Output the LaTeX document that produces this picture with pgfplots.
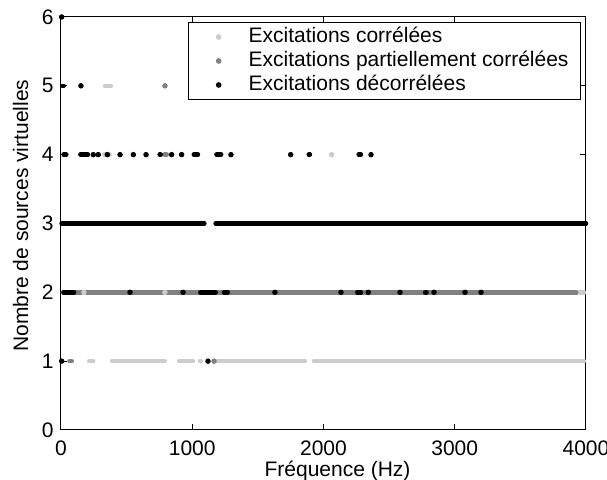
\documentclass[border=0pt]{standalone}
\usepackage{fontspec}
\setmainfont{Liberation Sans}
\usepackage{pgfplots}
\pgfplotsset{compat=1.18}
\definecolor{cA}{gray}{0.8}
\definecolor{cB}{gray}{0.5}
\pgfplotsset{
  dotleg/.style={legend image code/.code={\path[draw=none,fill=none] (0pt,0pt) -- (24pt,0pt); \draw[only marks] plot coordinates {(11pt,0pt)};}},
  seg/.style={forget plot, line width=2.3pt, line cap=round, unbounded coords=jump, mark=none},
}
\begin{document}
\fontsize{10.5}{12.6}\selectfont
\begin{tikzpicture}
\begin{axis}[
  scale only axis, width=262.5pt, height=206.5pt,
  xmin=0, xmax=4000, ymin=0, ymax=6,
  xtick={0,1000,2000,3000,4000}, ytick={0,1,2,3,4,5,6},
  minor tick num=0,
  tick align=inside, xtick pos=both, ytick pos=both,
  major tick length=3pt,
  scaled x ticks=false,
  /pgf/number format/1000 sep={},
  /pgf/number format/assume math mode=true,
  tick label style={font=\fontsize{10.5}{12.6}\selectfont},
  xticklabel style={yshift=-1.5pt},
  label style={font=\fontsize{10.5}{12.6}\selectfont},
  xlabel={Fréquence (Hz)}, ylabel={Nombre de sources virtuelles},
  xlabel style={at={(axis description cs:0.5267,-0.1)}, anchor=center},
  ylabel style={at={(axis description cs:-0.0768,0.519)}, anchor=center},
  clip=false,
  axis line style={line width=0.5pt},
  every tick/.style={line width=0.5pt, black},
  legend cell align=left,
  legend style={at={(axis description cs:0.9905,0.9879)}, anchor=north east,
    draw=black, line width=0.5pt, inner xsep=4pt, inner ysep=1.25pt, row sep=0pt,
    nodes={inner xsep=2pt, inner ysep=1.5pt, text height=7.5pt, text depth=1.5pt,
      font=\fontsize{10.5}{12.6}\selectfont}},
]
\coordinate (sw) at (rel axis cs:0,0);
\coordinate (ne) at (rel axis cs:1,1);
% --- Excitations correlees (light gray)
\addplot[seg, cA] coordinates {
 (215,1)(245,1)(250,nan)
 (390,1)(790,1)(800,nan)
 (900,1)(1005,1)(1010,nan)
 (1058,1)(1066,1)(1070,nan)
 (1190,1)(1858,1)(1860,nan)
 (1928,1)(3985,1)(3990,nan)
 (3945,2)(3985,2)(3990,nan)
 (330,4)(370,4)(375,nan)
 (335,5)(380,5)
};
\addplot[cA, only marks, mark=*, mark size=1.15pt, dotleg] coordinates {
 (175,2)(792,2)(2062,4)
};
\addlegendentry{Excitations corrélées}
% --- Excitations partiellement correlees (mid gray)
\addplot[seg, cB] coordinates {
 (15,2)(155,2)(160,nan)
 (195,2)(780,2)(785,nan)
 (805,2)(3925,2)(3930,nan)
 (65,1)(82,1)(85,nan)
 (790,4)(805,4)
};
\addplot[cB, only marks, mark=*, mark size=1.15pt, dotleg] coordinates {
 (1166,1)(792,5)
};
\addlegendentry{Excitations partiellement corrélées}
% --- Excitations decorrelees (black)
\addplot[seg, black] coordinates {
 (5,3)(1092,3)(1100,nan)
 (1178,3)(4000,3)(4001,nan)
 (20,2)(100,2)(105,nan)
 (1062,2)(1178,2)(1180,nan)
 (1242,2)(1270,2)(1275,nan)
 (2258,2)(2285,2)(2290,nan)
 (2775,2)(2785,2)(2790,nan)
 (20,4)(40,4)(45,nan)
 (148,4)(205,4)(210,nan)
 (752,4)(760,4)(765,nan)
 (1012,4)(1043,4)(1045,nan)
 (1185,4)(1220,4)(1225,nan)
 (1888,4)(1896,4)(1900,nan)
 (2268,4)(2285,4)(2290,nan)
 (10,5)(20,5)
};
\addplot[black, only marks, mark=*, mark size=1.15pt, dotleg] coordinates {
 (5,1)(1120,1)
 (526,2)(930,2)(1630,2)(2133,2)(2341,2)(2583,2)(2842,2)(3078,2)(3200,2)
 (246,4)(284,4)(353,4)(450,4)(551,4)(648,4)(843,4)(919,4)(1295,4)(1750,4)(2362,4)
 (152,5)
 (5,6)
};
\addlegendentry{Excitations décorrélées}
\end{axis}
\pgfresetboundingbox
\useasboundingbox ([shift={(-30.5pt,-25pt)}]sw) rectangle ([shift={(10.5pt,8.5pt)}]ne);
\end{tikzpicture}
\end{document}
